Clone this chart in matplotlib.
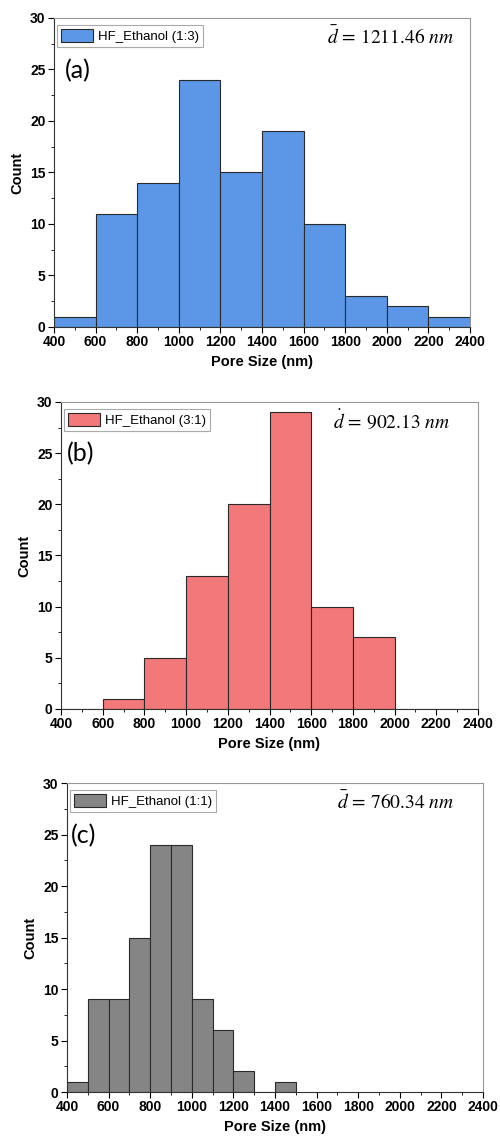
import numpy as np
import matplotlib.pyplot as plt
from matplotlib.ticker import MultipleLocator

plt.rcParams['font.family'] = ['Liberation Sans', 'DejaVu Sans']
plt.rcParams['mathtext.fontset'] = 'stix'

# данные гистограмм
edges_a = [400, 600, 800, 1000, 1200, 1400, 1600, 1800, 2000, 2200, 2400]
counts_a = [1, 11, 14, 24, 15, 19, 10, 3, 2, 1]

edges_b = [400, 600, 800, 1000, 1200, 1400, 1600, 1800, 2000, 2200, 2400]
counts_b = [0, 1, 5, 13, 20, 29, 10, 7, 0, 0]

edges_c = [400, 500, 600, 700, 800, 900, 1000, 1100, 1200, 1300, 1400, 1500]
counts_c = [1, 9, 9, 15, 24, 24, 9, 6, 2, 0, 1]

labels = ['HF_Ethanol (1:3)', 'HF_Ethanol (3:1)', 'HF_Ethanol (1:1)']
means = ['1211.46', '902.13', '760.34']
accents = [r'\bar{d}', r'\dot{d}', r'\bar{d}']
letters = ['(a)', '(b)', '(c)']
colors = ['#5B97E6', '#F2787A', '#858585']

# положение осей в долях фигуры
rects = [[0.108, 0.7127, 0.832, 0.2715],
         [0.122, 0.3770, 0.834, 0.2698],
         [0.134, 0.0404, 0.832, 0.2715]]
mean_x = [0.962, 0.933, 0.93]
letter_x = [0.025, 0.015, 0.01]

fig = plt.figure(figsize=(5, 11.38), dpi=100)

panels = [(edges_a, counts_a), (edges_b, counts_b), (edges_c, counts_c)]
for i, (edges, counts) in enumerate(panels):
    ax = fig.add_axes(rects[i])
    edges = np.array(edges)
    ax.bar(edges[:-1], counts, width=np.diff(edges), align='edge',
           color=colors[i], edgecolor='#2a2a2a', linewidth=0.8, label=labels[i])

    ax.set_xlim(400, 2400)
    ax.set_ylim(0, 30)
    ax.set_xticks(np.arange(400, 2401, 200))
    ax.set_yticks([0, 5, 10, 15, 20, 25, 30])
    ax.xaxis.set_minor_locator(MultipleLocator(100))
    ax.yaxis.set_minor_locator(MultipleLocator(2.5))
    ax.tick_params(which='major', direction='out', length=4, width=0.8,
                   labelsize=10, pad=2)
    ax.tick_params(which='minor', direction='out', length=2, width=0.6)
    for t in ax.get_xticklabels() + ax.get_yticklabels():
        t.set_fontweight('bold')

    for s in ['left', 'bottom']:
        ax.spines[s].set_color('#333333')
    for s in ['top', 'right']:
        ax.spines[s].set_color('#999999')

    ax.set_xlabel('Pore Size (nm)', fontsize=10.5, fontweight='bold', labelpad=4)
    ax.set_ylabel('Count', fontsize=10.5, fontweight='bold', labelpad=4)

    leg = ax.legend(loc='upper left', bbox_to_anchor=(0.008, 0.978),
                    borderaxespad=0, fontsize=9.5, handlelength=2.4,
                    handleheight=1.15, fancybox=False, framealpha=1,
                    edgecolor='#aaaaaa', borderpad=0.3, handletextpad=0.35)
    leg.get_frame().set_linewidth(0.8)

    ax.text(mean_x[i], 0.94,
            r'$%s\, =\, \mathrm{%s}\ nm$' % (accents[i], means[i]),
            transform=ax.transAxes, ha='right', va='center', fontsize=14)
    ax.text(letter_x[i], 0.83, letters[i], transform=ax.transAxes,
            ha='left', va='center', fontsize=18, family=['Lato', 'DejaVu Sans'])

fig.savefig('out.png', dpi=100)
